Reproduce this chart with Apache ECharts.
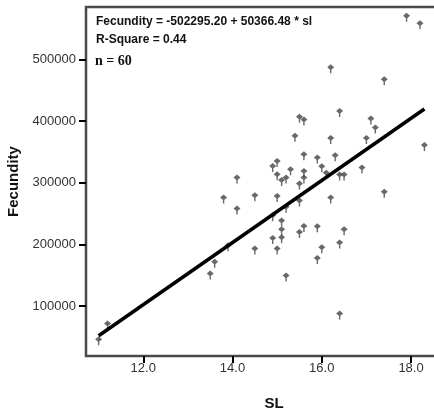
<!DOCTYPE html>
<html>
<head>
<meta charset="utf-8">
<script src="https://cdn.jsdelivr.net/npm/echarts@6/dist/echarts.min.js"></script>
<style>
  html, body { margin: 0; padding: 0; background: #fff; }
  #chart { width: 434px; height: 417px; }
</style>
</head>
<body>
<div id="chart"></div>
<script>
// 数据：SL 与 Fecundity
const slValues = [11.0, 11.2, 13.5, 13.6, 13.8, 13.9, 14.1, 14.1, 14.5, 14.5,
    14.9, 15.0, 14.9, 14.9, 15.0, 15.0, 15.0, 15.1, 15.1, 15.1,
    15.1, 15.2, 15.2, 15.2, 15.3, 15.4, 15.5, 15.6, 15.5, 15.5,
    15.5, 15.6, 15.6, 15.6, 15.6, 15.9, 15.9, 15.9, 16.0, 16.0,
    16.1, 16.2, 16.2, 16.2, 16.3, 16.4, 16.4, 16.5, 16.5, 16.4,
    16.4, 16.9, 17.0, 17.1, 17.2, 17.4, 17.4, 17.9, 18.2, 18.3];
const fecundityValues = [43700, 69200, 150300, 169200, 273500, 196200, 305900, 255700, 277200, 190800,
    324600, 332700, 244800, 207800, 311300, 275900, 190800, 301900, 236200, 221900,
    209100, 305900, 258600, 147000, 319400, 373600, 404400, 400000, 296200, 268700,
    217600, 343700, 316500, 305900, 227300, 338400, 227000, 175400, 324300, 192900,
    313600, 484800, 370000, 273500, 342100, 413800, 310800, 310800, 222100, 200500,
    85400, 322200, 370000, 401600, 387000, 465400, 282800, 568200, 556200, 358700];
const xTicks = [12, 14, 16, 18];
const yTicks = [100000, 200000, 300000, 400000, 500000];
const intercept = -502295.20;
const slope = 50366.48;

const points = slValues.map((v, i) => [v, fecundityValues[i]]);
const xMin = Math.min(...slValues);
const xMax = Math.max(...slValues);
const fitLine = [[xMin, intercept + slope * xMin], [xMax, intercept + slope * xMax]];

const chart = echarts.init(document.getElementById('chart'));
chart.setOption({
    animation: false,
    grid: {
        left: 86, top: 7, right: -28, bottom: 61,
        outerBoundsMode: 'none', containLabel: false,
        show: true, borderColor: '#4a4a4a', borderWidth: 2.5, backgroundColor: '#fff'
    },
    xAxis: {
        type: 'value', min: 10.717, max: 19.142,
        name: 'SL', nameLocation: 'middle', nameGap: 40,
        nameTextStyle: { fontFamily: 'Liberation Sans', fontWeight: 'bold', fontSize: 15, color: '#111' },
        axisLine: { show: false },
        axisTick: { show: true, customValues: xTicks, length: 7, lineStyle: { color: '#000', width: 2 } },
        axisLabel: {
            customValues: xTicks, margin: 6,
            fontFamily: 'Liberation Sans', fontSize: 13, color: '#333',
            formatter: v => v.toFixed(1)
        },
        splitLine: { show: false }
    },
    yAxis: {
        type: 'value', min: 18870, max: 584810,
        name: 'Fecundity', nameLocation: 'middle', nameGap: 50,
        nameTextStyle: { fontFamily: 'Liberation Sans', fontWeight: 'bold', fontSize: 15, color: '#111' },
        axisLine: { show: false },
        axisTick: { show: true, customValues: yTicks, length: 7, lineStyle: { color: '#000', width: 2 } },
        axisLabel: {
            customValues: yTicks, margin: 10,
            fontFamily: 'Liberation Sans', fontSize: 13, color: '#333',
            formatter: v => String(v)
        },
        splitLine: { show: false }
    },
    graphic: [
        { type: 'text', left: 96, top: 16, style: { text: 'Fecundity = -502295.20 + 50366.48 * sl', font: 'bold 12px "Liberation Sans"', fill: '#111' } },
        { type: 'text', left: 96, top: 34, style: { text: 'R-Square = 0.44', font: 'bold 12px "Liberation Sans"', fill: '#111' } },
        { type: 'text', left: 95, top: 54, style: { text: 'n = 60', font: 'bold 14px "Liberation Serif"', fill: '#111' } }
    ],
    series: [
        {
            type: 'line', data: fitLine, symbol: 'none',
            lineStyle: { color: '#000', width: 3.5 }, z: 3
        },
        {
            type: 'scatter', data: points,
            symbol: 'path://M5,0 L8,3 L5,6 L2,3 Z M4.4,5 L5.6,5 L5.6,9 L4.4,9 Z',
            symbolSize: [7, 9],
            itemStyle: { color: '#444' }, z: 2
        }
    ]
});
</script>
</body>
</html>
